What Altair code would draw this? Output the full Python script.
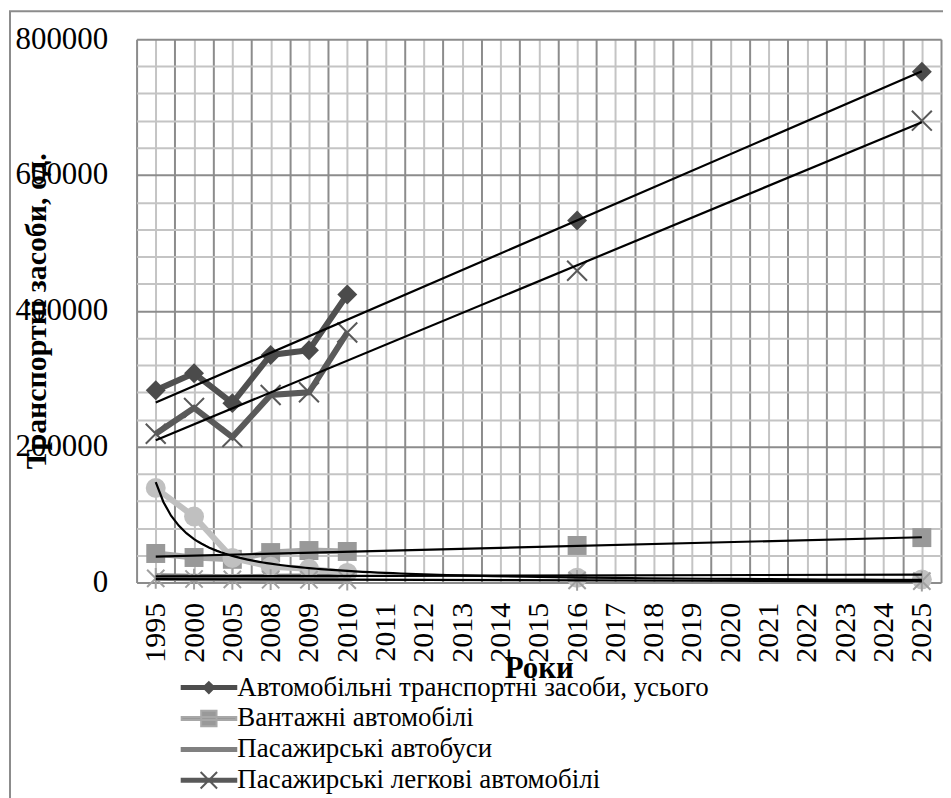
import json
import altair as alt
import pandas as pd

# ---------------- data ----------------
years = ["1995", "2000", "2005", "2008", "2009", "2010", "2011", "2012", "2013",
         "2014", "2015", "2016", "2017", "2018", "2019", "2020", "2021", "2022",
         "2023", "2024", "2025"]
N = None
total = [283000, 308000, 264000, 335000, 342000, 424000, N, N, N, N, N, 533000,
         N, N, N, N, N, N, N, N, 752000]
trucks = [42600, 36700, 34000, 44000, 47000, 45600, N, N, N, N, N, 54400,
          N, N, N, N, N, N, N, N, 66000]
buses = [10000, 9000, 8500, 9000, 9500, 9500, N, N, N, N, N, 10500,
         N, N, N, N, N, N, N, N, 11500]
cars = [219000, 257000, 214000, 276000, 280000, 368000, N, N, N, N, N, 459000,
        N, N, N, N, N, N, N, N, 680000]
other_circle = [139000, 97000, 36000, 23000, 20000, 14000, N, N, N, N, N, 7000,
                N, N, N, N, N, N, N, N, 4500]
other_star = [6000, 5000, 4500, 4000, 4000, 3500, N, N, N, N, N, 3000,
              N, N, N, N, N, N, N, N, 2000]

series_names = ["Автомобільні транспортні засоби, усього", "Вантажні автомобілі",
                "Пасажирські автобуси", "Пасажирські легкові автомобілі"]

idx = list(range(1, len(years) + 1))


def frame(name, vals):
    return pd.DataFrame({"idx": idx, "year": years, "series": name,
                         "value": [float("nan") if v is None else v for v in vals]})


df_total = frame(series_names[0], total)
df_trucks = frame(series_names[1], trucks)
df_buses = frame(series_names[2], buses)
df_cars = frame(series_names[3], cars)
df_circle = frame("c", other_circle)
df_star = frame("s", other_star)
df_legend = pd.concat([df_total, df_trucks, df_buses, df_cars], ignore_index=True)

# ---------------- styling ----------------
FONT = "Liberation Serif, Times New Roman, DejaVu Serif, serif"
DARK_GRID = "#8c8c8c"
LIGHT_GRID = "#c4c4c4"

x_axis = alt.Axis(
    values=[0.5 + 0.5 * i for i in range(2 * len(years) + 1)],
    grid=True,
    gridColor={"condition": {"test": "datum.value % 1 === 0", "value": LIGHT_GRID},
               "value": DARK_GRID},
    gridWidth=2,
    ticks=False, domain=False,
    labelExpr="datum.value % 1 === 0 ? " + json.dumps(years) + "[datum.value - 1] : ''",
    labelAngle=270, labelAlign="right", labelBaseline="middle", labelPadding=20,
    labelFont=FONT, labelFontSize=30, labelColor="black", labelOverlap=False,
    labelFlush=False,
    titleFont=FONT, titleFontSize=31, titleFontWeight="bold", titleColor="black",
    titleY=95, titleBaseline="alphabetic",
)
y_axis = alt.Axis(
    values=list(range(0, 800001, 40000)),
    grid=True,
    gridColor={"condition": {"test": "datum.value % 200000 === 0", "value": DARK_GRID},
               "value": LIGHT_GRID},
    gridWidth=2,
    ticks=False, domain=False,
    labelExpr="datum.value % 200000 === 0 ? '' + datum.value : ''",
    labelPadding=29, labelFont=FONT, labelFontSize=31, labelColor="black",
    labelOverlap=False, labelFlush=False,
    titleFont=FONT, titleFontSize=30, titleFontWeight="bold", titleColor="black",
    titleX=-91, titleBaseline="alphabetic",
)

x_enc = alt.X("idx:Q", title="Роки",
              scale=alt.Scale(domain=[0.5, len(years) + 0.5], nice=False, zero=False),
              axis=x_axis)
y_enc = alt.Y("value:Q", title="Транспортні засоби, од.",
              scale=alt.Scale(domain=[0, 800000], nice=False, zero=True),
              axis=y_axis)

INVALID = "break-paths-filter-domains"


def line(df, color, width=6):
    return alt.Chart(df).mark_line(color=color, strokeWidth=width, invalid=INVALID).encode(
        x=x_enc, y=y_enc)


def points(df, **kw):
    return alt.Chart(df).mark_point(**kw).encode(x=x_enc, y=y_enc)


def trend(df, method="linear"):
    return (alt.Chart(df)
            .transform_filter("isValid(datum.value)")
            .transform_regression("idx", "value", method=method)
            .mark_line(color="black", strokeWidth=2.2)
            .encode(x=x_enc, y=y_enc))


X_PATH = "M-1,-1L1,1M1,-1L-1,1"
STAR_PATH = "M-1,-1L1,1M1,-1L-1,1M0,-1.2L0,1.2"

layers = [
    line(df_total, "#505050"),
    points(df_total, shape="diamond", filled=True, size=400, color="#4b4b4b", opacity=1),
    line(df_trucks, "#a8a8a8"),
    points(df_trucks, shape="square", filled=True, size=361, color="#999999", opacity=1),
    line(df_buses, "#808080", 5),
    line(df_cars, "#5a5a5a"),
    points(df_cars, shape=X_PATH, filled=False, size=400, color="#595959",
           strokeWidth=2, opacity=1),
    line(df_circle, "#c0c0c0"),
    points(df_circle, shape="circle", filled=True, size=400, color="#c0c0c0", opacity=1),
    line(df_star, "#a0a0a0", 5),
    points(df_star, shape=STAR_PATH, filled=False, size=300, color="#a0a0a0",
           strokeWidth=2, opacity=1),
    trend(df_total),
    trend(df_cars),
    trend(df_trucks),
    trend(df_buses),
    trend(df_star),
    trend(df_circle, "pow"),
]

# ---------------- legend (symbols combine line + marker) ----------------
RECT = "M-1,-0.055H1V0.055H-1Z"
legend_shapes = [
    RECT + "M0,-0.2L0.2,0L0,0.2L-0.2,0Z",
    RECT + "M-0.28,-0.28H0.28V0.28H-0.28Z",
    RECT,
    RECT + "M-0.3,-0.3L0.3,0.3M0.3,-0.3L-0.3,0.3",
]
legend_fills = ["#4d4d4d", "#999999", "#808080", "#595959"]
legend_strokes = ["#4d4d4d", "#a8a8a8", "#808080", "#595959"]

leg = alt.Legend(
    title=None, orient="none", legendX=44, legendY=635, direction="vertical",
    symbolSize=3025, symbolStrokeWidth=2, symbolOpacity=1,
    labelFont=FONT, labelFontSize=27, labelColor="black", labelLimit=900,
    labelOffset=0, symbolOffset=0, clipHeight=31, rowPadding=0, padding=0,
)

legend_layer = alt.Chart(df_legend).mark_point(opacity=0, filled=True, strokeWidth=2).encode(
    x=x_enc, y=y_enc,
    shape=alt.Shape("series:N", sort=series_names,
                    scale=alt.Scale(domain=series_names, range=legend_shapes), legend=leg),
    fill=alt.Fill("series:N", sort=series_names,
                  scale=alt.Scale(domain=series_names, range=legend_fills), legend=leg),
    stroke=alt.Stroke("series:N", sort=series_names,
                      scale=alt.Scale(domain=series_names, range=legend_strokes), legend=leg),
)

# decorative chart-area frame
frame_layer = alt.Chart(alt.Data(values=[{"f": 1}])).mark_rect(
    filled=False, stroke="#8c8c8c", strokeWidth=2
).encode(x=alt.value(-127), y=alt.value(-28), x2=alt.value(1000), y2=alt.value(1000))

chart = alt.layer(frame_layer, *layers, legend_layer).properties(
    width=807, height=545,
    autosize=alt.AutoSizeParams(type="none"),
    padding={"left": 129, "top": 30, "right": 2, "bottom": 215},
).configure_view(stroke="#8c8c8c", strokeWidth=2.5).configure(background="white")

chart.save("out.html", embed_options={"renderer": "svg", "actions": False})
